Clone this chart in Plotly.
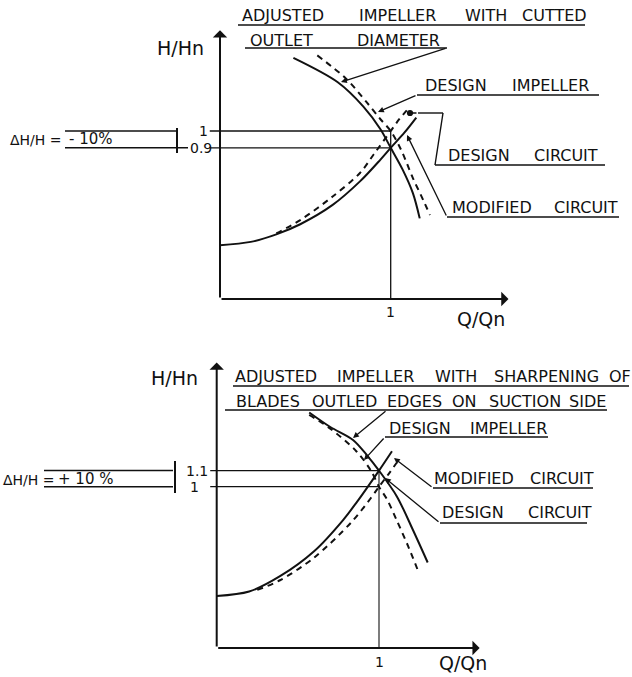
import plotly.graph_objects as go

W, H = 632, 677
INK = "#111111"
FONT = "DejaVu Sans"

# ---- top panel: impeller with cut outlet diameter (H/Hn vs Q/Qn) ----
top_q_cut = [0.43, 0.69, 0.84, 0.94, 1.0, 1.07, 1.13, 1.17]
top_h_cut = [1.435, 1.29, 1.145, 1.01, 0.9, 0.77, 0.63, 0.48]
top_q_design_imp = [0.57, 0.74, 0.86, 0.94, 1.0, 1.06, 1.13, 1.19, 1.23]
top_h_design_imp = [1.45, 1.31, 1.17, 1.07, 1.0, 0.89, 0.72, 0.59, 0.50]
top_q_mod_circ = [0.0, 0.18, 0.33, 0.47, 0.66, 0.82, 0.94, 1.0, 1.08, 1.15]
top_h_mod_circ = [0.32, 0.34, 0.385, 0.445, 0.56, 0.70, 0.83, 0.9, 0.99, 1.08]
top_q_design_circ = [0.33, 0.47, 0.66, 0.82, 0.9, 1.0, 1.05, 1.1]
top_h_design_circ = [0.39, 0.47, 0.61, 0.75, 0.86, 1.0, 1.07, 1.13]
top_levels = [1.0, 0.9]
top_level_labels = ["1", "0.9"]
top_axis_max = (1.69, 1.60)

# ---- bottom panel: sharpened blade outlet edges ----
bot_q_sharp = [0.57, 0.70, 0.84, 0.93, 1.0, 1.11, 1.21, 1.30]
bot_h_sharp = [1.46, 1.37, 1.29, 1.19, 1.1, 0.94, 0.73, 0.53]
bot_q_design_imp = [0.57, 0.70, 0.86, 0.95, 1.0, 1.05, 1.11, 1.18, 1.24]
bot_h_design_imp = [1.445, 1.36, 1.22, 1.10, 1.0, 0.92, 0.79, 0.63, 0.48]
bot_q_mod_circ = [0.0, 0.2, 0.39, 0.6, 0.78, 0.86, 1.0, 1.08]
bot_h_mod_circ = [0.322, 0.35, 0.445, 0.60, 0.795, 0.9, 1.1, 1.22]
bot_q_design_circ = [0.25, 0.39, 0.6, 0.83, 0.95, 1.0, 1.06, 1.11]
bot_h_design_circ = [0.36, 0.42, 0.56, 0.78, 0.93, 1.0, 1.08, 1.15]
bot_levels = [1.1, 1.0]
bot_level_labels = ["1.1", "1"]
bot_axis_max = (1.62, 1.77)

# where origin and unit point sit on the page, and where the panels split
top_frame = dict(x0=220, x1=390.7, y0=299, y1=131)
bot_frame = dict(x0=216.7, x1=379, y0=648, y1=486.7)
SPLIT = 338.5


def axis_ranges(fr, top_px, bot_px):
    sx = fr["x1"] - fr["x0"]
    sy = fr["y0"] - fr["y1"]
    xr = [(0 - fr["x0"]) / sx, (W - fr["x0"]) / sx]
    yr = [(fr["y0"] - bot_px) / sy, (fr["y0"] - top_px) / sy]
    return xr, yr


top_xr, top_yr = axis_ranges(top_frame, 0, SPLIT)
bot_xr, bot_yr = axis_ranges(bot_frame, SPLIT, H)
split_paper = 1 - SPLIT / H

fig = go.Figure()
DASH = "6px,5px"


def curve(q, h, xa, ya, dash=None, width=2.0):
    fig.add_trace(go.Scatter(
        x=q, y=h, mode="lines", xaxis=xa, yaxis=ya, hoverinfo="skip", showlegend=False,
        line=dict(color=INK, width=width, dash=dash, shape="spline", smoothing=0.9)))


def straight(q, h, xa, ya, width=1.3):
    fig.add_trace(go.Scatter(
        x=q, y=h, mode="lines", xaxis=xa, yaxis=ya, hoverinfo="skip", showlegend=False,
        line=dict(color=INK, width=width)))


# top curves
curve(top_q_cut, top_h_cut, "x", "y")
curve(top_q_design_imp, top_h_design_imp, "x", "y", dash=DASH)
curve(top_q_mod_circ, top_h_mod_circ, "x", "y")
curve(top_q_design_circ, top_h_design_circ, "x", "y", dash=DASH)
for lv in top_levels:
    straight([-0.06, 1.0], [lv, lv], "x", "y")
straight([1.0, 1.0], [0, max(top_levels)], "x", "y")

# bottom curves
curve(bot_q_sharp, bot_h_sharp, "x2", "y2")
curve(bot_q_design_imp, bot_h_design_imp, "x2", "y2", dash=DASH)
curve(bot_q_mod_circ, bot_h_mod_circ, "x2", "y2")
curve(bot_q_design_circ, bot_h_design_circ, "x2", "y2", dash=DASH)
for lv in bot_levels:
    straight([-0.04, 1.0], [lv, lv], "x2", "y2")
straight([1.0, 1.0], [0, max(bot_levels)], "x2", "y2", width=1.1)


def px(x):
    return x / W


def py(y):
    return 1 - y / H


def text(t, x, y, size=16, anchor="left"):
    fig.add_annotation(text=t, x=px(x), y=py(y), xref="paper", yref="paper",
                       xanchor=anchor, yanchor="middle", showarrow=False,
                       font=dict(family=FONT, size=size, color=INK))


def seg(x0, y0, x1, y1, width=1.4):
    fig.add_shape(type="line", xref="paper", yref="paper",
                  x0=px(x0), y0=py(y0), x1=px(x1), y1=py(y1),
                  line=dict(color=INK, width=width))


def leader(x_tail, y_tail, x_head, y_head, head=2, size=0.9):
    fig.add_annotation(x=px(x_head), y=py(y_head), xref="paper", yref="paper",
                       ax=x_tail - x_head, ay=y_tail - y_head, text="",
                       showarrow=True, arrowhead=head, arrowsize=size,
                       arrowwidth=1.3, arrowcolor=INK, standoff=0)


def axis_arrows(xa, ya, qmax, hmax):
    for x, y in [(0, hmax), (qmax, 0)]:
        fig.add_annotation(x=x, y=y, xref=xa, yref=ya, ax=0, ay=0, axref=xa, ayref=ya,
                           text="", showarrow=True, arrowhead=1, arrowsize=1.2,
                           arrowwidth=2, arrowcolor=INK, standoff=0)


def level_label(lab, x, lv, yref):
    fig.add_annotation(text=lab, x=px(x), y=lv, xref="paper", yref=yref,
                       xanchor="left", yanchor="middle", showarrow=False,
                       font=dict(family=FONT, size=14, color=INK))


axis_arrows("x", "y", *top_axis_max)
axis_arrows("x2", "y2", *bot_axis_max)

# --- top panel texts ---
for w, x, y in [("ADJUSTED", 240, 16), ("IMPELLER", 357, 16), ("WITH", 463, 16), ("CUTTED", 520, 16),
                ("OUTLET", 248, 40), ("DIAMETER", 355, 40),
                ("DESIGN", 423, 85), ("IMPELLER", 510, 85),
                ("DESIGN", 446, 155), ("CIRCUIT", 532, 155),
                ("MODIFIED", 450, 207), ("CIRCUIT", 552, 207)]:
    text(w, x, y)
for x0, x1, y in [(238, 585, 25), (245, 447, 48), (417, 599, 95), (435, 605, 165), (447, 619, 217)]:
    seg(x0, y, x1, y)
leader(447, 48, 341, 82)
leader(417, 95, 378, 112)
seg(435, 165, 443, 113)
seg(443, 113, 418, 113)
leader(418, 113, 410, 113, head=6, size=1.2)
leader(447, 217, 407, 135)

text("H/Hn", 155, 48, size=19)
text("Q/Qn", 455, 319, size=19)
text("1", 390, 312, size=14, anchor="center")
text("ΔH/H =", 8, 140, size=14)
text("- 10%", 67, 139, size=15)
for lv, x_end in zip(top_levels, [177, 188]):
    fig.add_shape(type="line", xref="paper", yref="y", x0=px(65), x1=px(x_end), y0=lv, y1=lv,
                  line=dict(color=INK, width=1.4))
level_label(top_level_labels[0], 197, top_levels[0], "y")
level_label(top_level_labels[1], 188, top_levels[1], "y")
seg(177, 128, 177, 153, width=2)

# --- bottom panel texts ---
for w, x, y in [("ADJUSTED", 233, 376), ("IMPELLER", 335, 376), ("WITH", 433, 376),
                ("SHARPENING", 492, 376), ("OF", 607, 376),
                ("BLADES", 234, 401), ("OUTLED", 310, 401), ("EDGES", 385, 401), ("ON", 450, 401),
                ("SUCTION", 487, 401), ("SIDE", 567, 401),
                ("DESIGN", 387, 428), ("IMPELLER", 468, 428),
                ("MODIFIED", 432, 478), ("CIRCUIT", 528, 478),
                ("DESIGN", 440, 512), ("CIRCUIT", 526, 512)]:
    text(w, x, y)
for x0, x1, y in [(233, 629, 386), (225, 607, 410), (385, 548, 437), (433, 593, 488), (440, 587, 523)]:
    seg(x0, y, x1, y)
leader(387, 410, 353, 438)
leader(385, 437, 364, 460)
leader(433, 488, 394, 458)
leader(440, 523, 385, 478)

text("H/Hn", 149, 378, size=19)
text("Q/Qn", 437, 663, size=19)
text("1", 379, 662, size=14, anchor="center")
text("ΔH/H =", 1, 480, size=14)
text("+ 10 %", 56, 479, size=15)
for lv in bot_levels:
    fig.add_shape(type="line", xref="paper", yref="y2", x0=px(44), x1=px(173), y0=lv, y1=lv,
                  line=dict(color=INK, width=1.4))
for lv, lab, x0 in zip(bot_levels, bot_level_labels, [184, 188]):
    level_label(lab, x0, lv, "y2")
seg(175, 461, 175, 493, width=2)

fig.update_layout(
    width=W, height=H, autosize=False,
    margin=dict(l=0, r=0, t=0, b=0),
    paper_bgcolor="white", plot_bgcolor="white",
    xaxis=dict(domain=[0, 1], range=top_xr, visible=False, anchor="y"),
    yaxis=dict(domain=[split_paper, 1], range=top_yr, visible=False, anchor="x"),
    xaxis2=dict(domain=[0, 1], range=bot_xr, visible=False, anchor="y2"),
    yaxis2=dict(domain=[0, split_paper], range=bot_yr, visible=False, anchor="x2"),
)

# the page's default 8px body margin would shift the drawing, so drop it
fig.write_html("out.html", config={"displayModeBar": False},
               post_script="document.body.style.margin = '0px';")
